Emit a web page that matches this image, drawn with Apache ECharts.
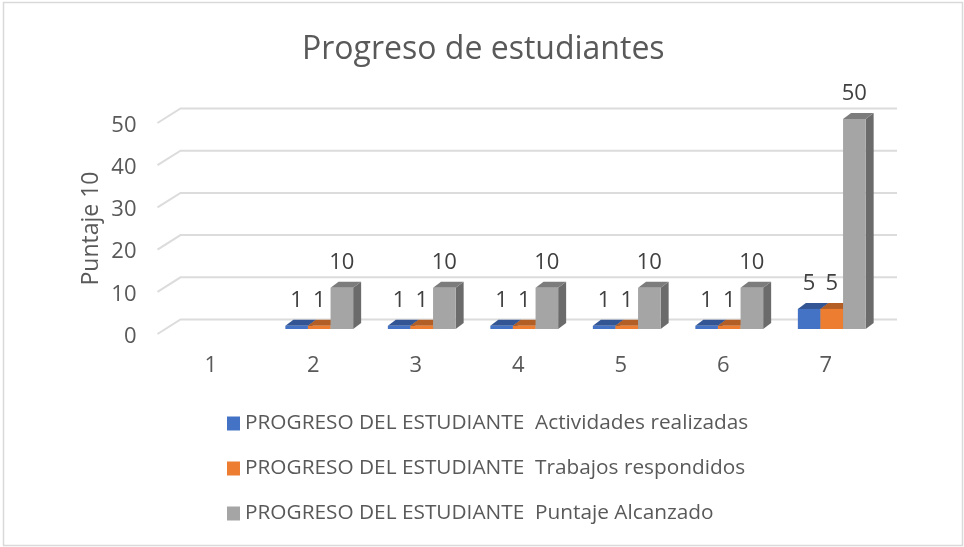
<!DOCTYPE html>
<html><head><meta charset="utf-8">
<style>html,body{margin:0;padding:0;background:#fff}#c{width:964px;height:547px}</style>
<script src="https://cdn.jsdelivr.net/npm/echarts@6/dist/echarts.min.js"></script>
</head><body><div id="c"></div>
<script>
const categories = ['1','2','3','4','5','6','7'];
const actividades = [null,1,1,1,1,1,5];
const trabajos = [null,1,1,1,1,1,5];
const puntaje = [null,10,10,10,10,10,50];
const yTicks = [0,10,20,30,40,50];
const seriesNames = ['PROGRESO DEL ESTUDIANTE  Actividades realizadas','PROGRESO DEL ESTUDIANTE  Trabajos respondidos','PROGRESO DEL ESTUDIANTE  Puntaje Alcanzado'];
const FONT = '"Open Sans", sans-serif';
const TXT = '#595959';
const BW = 22.6, DX = 8, DY = 6, FRONT = 5, SHIFT = 6;
const palette = [
  {front:'#4472C4', top:'#335593', side:'#2a4a80'},
  {front:'#ED7D31', top:'#B25E25', side:'#9a5020'},
  {front:'#A5A5A5', top:'#7C7C7C', side:'#6B6B6B'}
];
function barRender(idx){
  return function(params, api){
    const v = api.value(1);
    if (v == null || isNaN(v)) return null;
    const c = palette[idx];
    const top = api.coord([api.value(0), v]);
    const base = api.coord([api.value(0), 0]);
    const x0 = base[0] + SHIFT + (idx - 1.5) * BW;
    const x1 = x0 + BW;
    const y0 = base[1] - FRONT;
    const y1 = top[1] - FRONT + 1;
    return {type:'group', children:[
      {type:'polygon', shape:{points:[[x1,y0],[x1+DX,y0-DY],[x1+DX,y1-DY],[x1,y1]]}, style:{fill:c.side}},
      {type:'polygon', shape:{points:[[x0,y1],[x1,y1],[x1+DX,y1-DY],[x0+DX,y1-DY]]}, style:{fill:c.top}},
      {type:'rect', shape:{x:x0,y:y1,width:BW,height:y0-y1}, style:{fill:c.front}},
      {type:'text', x:x0+BW/2, y:y1-25, style:{text:String(v), fill:'#404040', font:'22px '+FONT, textAlign:'center', textVerticalAlign:'middle'}}
    ]};
  };
}
const mk = (arr) => arr.map((v,i)=>[i, v]);
const option = {
  animation:false,
  backgroundColor:'#fff',
  title:{text:'Progreso de estudiantes', left:302, top:34, padding:0,
    textStyle:{fontFamily:FONT,fontSize:32,fontWeight:'normal',color:TXT}},
  legend:{orient:'vertical', left:227, top:413, padding:0, itemWidth:13, itemHeight:14, itemGap:24,
    icon:'rect', data:seriesNames, selectedMode:false,
    textStyle:{fontFamily:FONT,fontSize:20.8,color:TXT,lineHeight:14}},
  grid:{left:159.5, width:717.5, top:123, height:211},
  xAxis:{type:'category', data:categories, axisLine:{show:false}, axisTick:{show:false},
    splitLine:{show:false},
    axisLabel:{margin:21,fontFamily:FONT,fontSize:22,color:TXT}},
  yAxis:{type:'value', min:0, max:50, interval:10, axisLine:{show:false}, axisTick:{show:false},
    splitLine:{show:false},
    name:'Puntaje 10', nameLocation:'middle', nameGap:57, nameRotate:90, nameMoveOverlap:false,
    nameTextStyle:{fontFamily:FONT,fontSize:23,color:TXT},
    axisLabel:{margin:23,formatter:'{n|{value}}',
      rich:{n:{padding:[5,0,0,0],fontFamily:FONT,fontSize:22,color:TXT}}}},
  series:[
    {type:'custom', silent:true, z:1, coordinateSystem:'cartesian2d', encode:{x:0,y:1},
     data:yTicks.map(v=>[0,v]),
     renderItem:function(params,api){
       const p = api.coord([0,api.value(1)]);
       const xl = params.coordSys.x - 2;
       const xr = params.coordSys.x + params.coordSys.width + 20;
       return {type:'polyline', shape:{points:[[xl,p[1]],[xl+23,p[1]-14.5],[xr,p[1]-14.5]]},
         style:{fill:null, stroke:'#DCDCDC', lineWidth:2}};
     }},
    ...[actividades,trabajos,puntaje].map((arr,i)=>({
      type:'custom', name:seriesNames[i], z:2+i, silent:true,
      coordinateSystem:'cartesian2d', encode:{x:0,y:1},
      itemStyle:{color:palette[i].front},
      data:mk(arr), renderItem:barRender(i)
    }))
  ],
  graphic:[{type:'rect', silent:true, z:-1, shape:{x:3.5,y:2.5,width:959,height:543},
    style:{fill:'none',stroke:'#D9D9D9',lineWidth:1.5}}]
};
echarts.init(document.getElementById('c'),null,{renderer:'canvas'}).setOption(option);
</script></body></html>
